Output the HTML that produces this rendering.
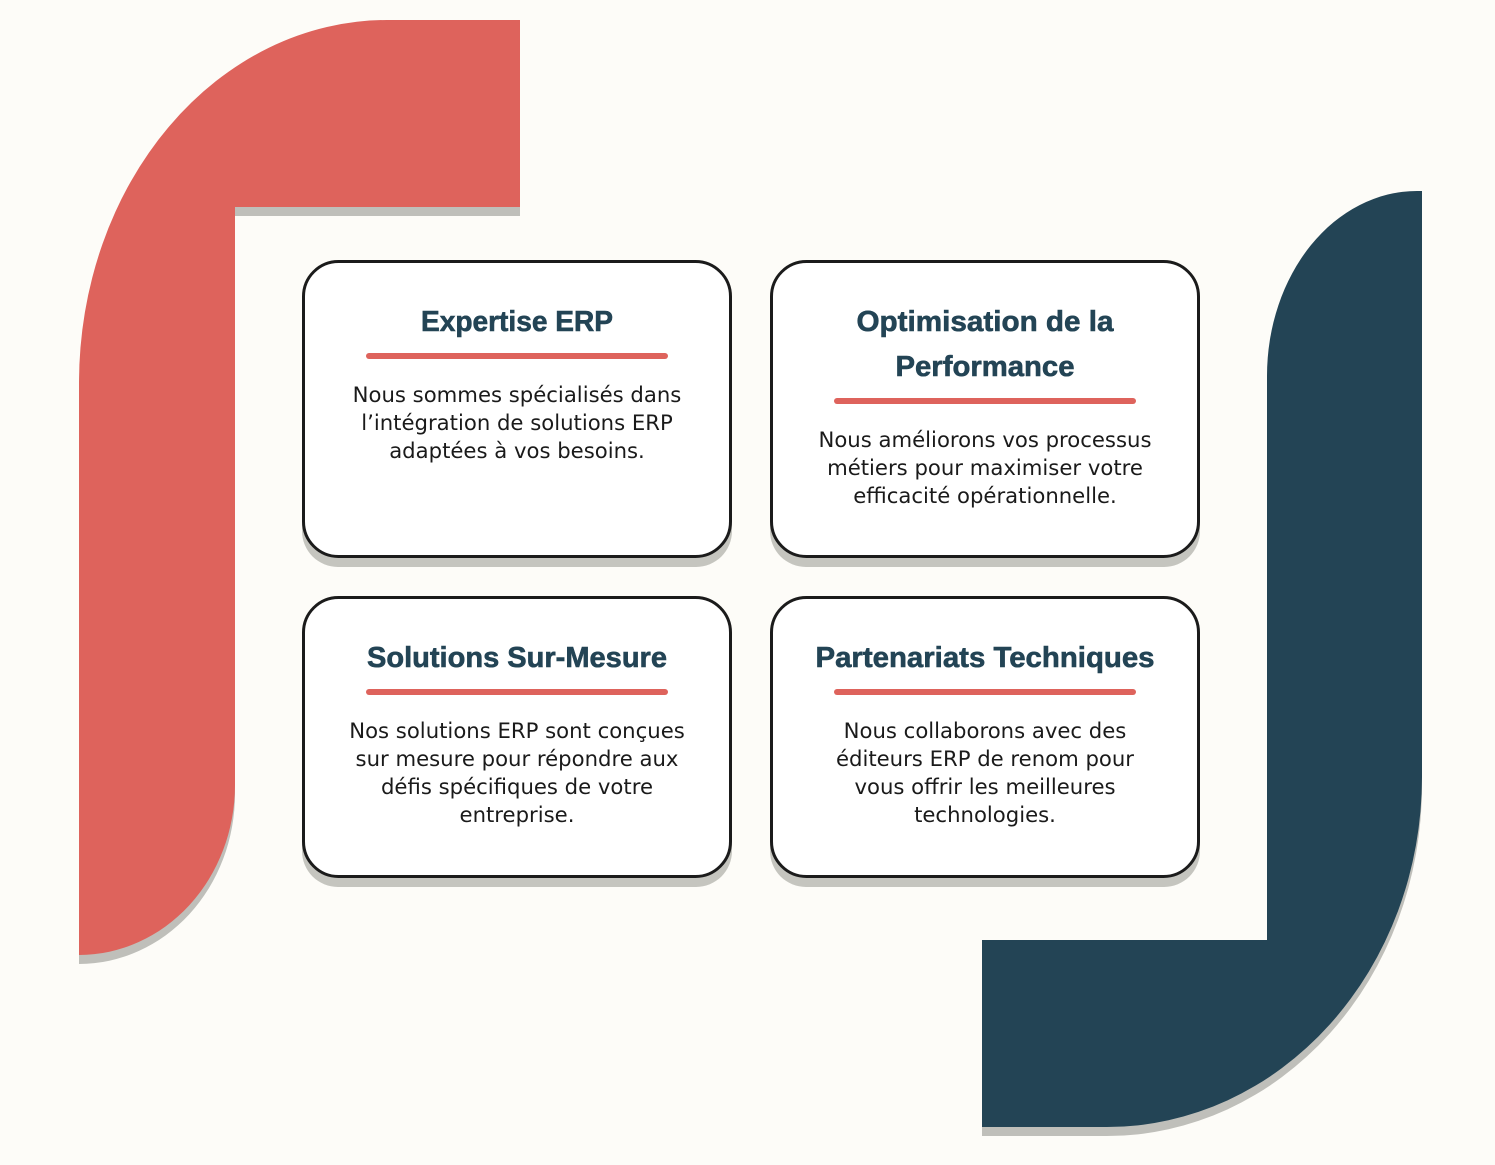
<!DOCTYPE html>
<html><head><meta charset="utf-8"><style>
html,body{margin:0;padding:0;background:#fdfcf8;}
svg{display:block;}
.t{font-family:"Liberation Sans",sans-serif;font-weight:bold;font-size:28.5px;fill:#234455;text-anchor:middle;stroke:#234455;stroke-width:0.6;}
.b{font-family:"DejaVu Sans","Liberation Sans",sans-serif;font-size:21.2px;fill:#1a1a1a;text-anchor:middle;}
</style></head><body>
<svg width="1495" height="1165" viewBox="0 0 1495 1165" xmlns="http://www.w3.org/2000/svg">
<rect width="1495" height="1165" fill="#fdfcf8"/>
<path transform="translate(0,9)" d="M520,20 L387,20 A308,363 0 0 0 79,383 L79,955 A156,170 0 0 0 235,785 L235,207 L520,207 Z" fill="#bfbfba"/>
<path d="M520,20 L387,20 A308,363 0 0 0 79,383 L79,955 A156,170 0 0 0 235,785 L235,207 L520,207 Z" fill="#de635c"/>
<path transform="translate(0,9)" d="M1422,191 L1417,191 A150,185 0 0 0 1267,376 L1267,940 L982,940 L982,1127 L1107,1127 A315,350 0 0 0 1422,777 Z" fill="#bfbfba"/>
<path d="M1422,191 L1417,191 A150,185 0 0 0 1267,376 L1267,940 L982,940 L982,1127 L1107,1127 A315,350 0 0 0 1422,777 Z" fill="#234455"/>
<g>
<rect x="302" y="270" width="430" height="297" rx="36" fill="#c5c5bf"/>
<rect x="303.5" y="261.5" width="427" height="295" rx="35" fill="#fff" stroke="#1b1b1b" stroke-width="3"/>
<rect x="770" y="270" width="430" height="297" rx="36" fill="#c5c5bf"/>
<rect x="771.5" y="261.5" width="427" height="295" rx="35" fill="#fff" stroke="#1b1b1b" stroke-width="3"/>
<rect x="302" y="606" width="430" height="281" rx="36" fill="#c5c5bf"/>
<rect x="303.5" y="597.5" width="427" height="279" rx="35" fill="#fff" stroke="#1b1b1b" stroke-width="3"/>
<rect x="770" y="606" width="430" height="281" rx="36" fill="#c5c5bf"/>
<rect x="771.5" y="597.5" width="427" height="279" rx="35" fill="#fff" stroke="#1b1b1b" stroke-width="3"/>
</g>
<g stroke="#de635c" stroke-width="6" stroke-linecap="round">
<line x1="369" y1="356" x2="665" y2="356"/>
<line x1="837" y1="401" x2="1133" y2="401"/>
<line x1="369" y1="692" x2="665" y2="692"/>
<line x1="837" y1="692" x2="1133" y2="692"/>
</g>
<text class="t" x="517" y="331" textLength="192" lengthAdjust="spacingAndGlyphs">Expertise ERP</text>
<text class="t" x="985" y="331" textLength="257" lengthAdjust="spacingAndGlyphs">Optimisation de la</text>
<text class="t" x="985" y="376" textLength="179" lengthAdjust="spacingAndGlyphs">Performance</text>
<text class="t" x="517" y="667" textLength="300" lengthAdjust="spacingAndGlyphs">Solutions Sur-Mesure</text>
<text class="t" x="985" y="667" textLength="339" lengthAdjust="spacingAndGlyphs">Partenariats Techniques</text>
<text class="b" x="517" y="402">Nous sommes spécialisés dans</text>
<text class="b" x="517" y="430">l’intégration de solutions ERP</text>
<text class="b" x="517" y="458">adaptées à vos besoins.</text>
<text class="b" x="985" y="447">Nous améliorons vos processus</text>
<text class="b" x="985" y="475">métiers pour maximiser votre</text>
<text class="b" x="985" y="503">efficacité opérationnelle.</text>
<text class="b" x="517" y="738">Nos solutions ERP sont conçues</text>
<text class="b" x="517" y="766">sur mesure pour répondre aux</text>
<text class="b" x="517" y="794">défis spécifiques de votre</text>
<text class="b" x="517" y="822">entreprise.</text>
<text class="b" x="985" y="738">Nous collaborons avec des</text>
<text class="b" x="985" y="766">éditeurs ERP de renom pour</text>
<text class="b" x="985" y="794">vous offrir les meilleures</text>
<text class="b" x="985" y="822">technologies.</text>
</svg>
</body></html>
